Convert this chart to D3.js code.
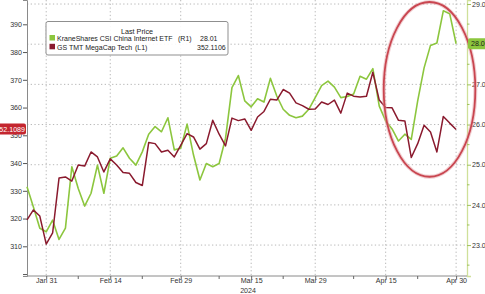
<!DOCTYPE html>
<html>
<head>
<meta charset="utf-8">
<script src="https://cdn.jsdelivr.net/npm/d3@7"></script>
<style>
  body { margin: 0; background: #fff; }
  svg { display: block; font-family: "Liberation Sans", Arial, sans-serif; }
</style>
</head>
<body>
<svg id="chart"></svg>
<script>
// daily closes, one per weekday, Jan 26 .. Apr 30 2024
const kweb = [24.45, 23.95, 23.42, 23.33, 23.62, 23.14, 23.42, 24.95, 24.41, 23.97,
    24.29, 24.99, 24.29, 25.16, 25.22, 25.42, 25.16, 24.99, 25.32, 25.76,
    25.95, 25.82, 26.17, 25.37, 25.41, 26.01, 25.24, 24.62, 25.03, 24.95,
    25.03, 25.66, 26.92, 27.22, 26.59, 26.44, 26.64, 26.56, 27.15, 26.71,
    26.38, 26.23, 26.17, 26.21, 26.38, 26.67, 26.97, 27.08, 26.93, 26.67,
    26.70, 26.76, 27.20, 27.13, 27.39, 26.46, 26.09, 25.89, 25.59, 25.76,
    25.63, 26.59, 27.41, 27.97, 28.03, 28.83, 28.76, 28.01]

const gsTmt = [319.5, 323.1, 320.9, 310.8, 314.8, 334.6, 335.0, 333.5, 339.3, 338.9,
    344.0, 342.2, 336.8, 341.5, 339.3, 336.6, 336.3, 333.0, 331.9, 347.4,
    347.0, 344.0, 344.6, 342.2, 346.4, 350.6, 349.4, 345.0, 347.0, 355.4,
    350.4, 346.2, 356.2, 355.3, 355.9, 351.8, 356.6, 358.6, 363.0, 362.7,
    366.5, 365.2, 361.7, 360.7, 359.4, 359.5, 362.0, 361.1, 362.7, 358.0,
    365.2, 364.1, 363.8, 364.1, 372.7, 362.7, 360.0, 359.9, 355.4, 355.2,
    342.0, 347.0, 353.6, 351.2, 344.0, 356.8, 354.4, 352.11]

const dateTickIdx = [3, 13, 24, 35, 45, 56, 67]
const dateTickLabels = ["Jan 31", "Feb 14", "Feb 29", "Mar 15", "Mar 29", "Apr 15", "Apr 30"]
const weekTickIdx = [8, 18, 30, 40, 51, 61]
const leftTicks = [300, 310, 320, 330, 340, 350, 360, 370, 380, 390]
const rightTicks = [23, 24, 25, 26, 27, 28, 29]
const rightMinor = [22.5, 23.5, 24.5, 25.5, 26.5, 27.5, 28.5]

const legendNames = ["KraneShares CSI China Internet ETF", "GS TMT MegaCap Tech"]
const legendAxis = ["(R1)", "(L1)"]
const legendLast = ["28.01", "352.1106"]
const leftTag = "352.1089"
const rightTag = "28.01"

// highlighted window: index range and right-axis value range
const circleIdx = [55.7, 70.0]
const circleVals = [24.7, 29.05]

const width = 485,
    height = 294

const green = "#8cc63e",
    maroon = "#8a1a2e"

const left = 27, right = 467, bottom = 276
const fs = "7.1px"

const svg = d3.select("#chart")
    .attr("width", width)
    .attr("height", height)

const x = d3.scaleLinear().domain([0, 68.7]).range([left, right])
const yL = d3.scaleLinear().domain([299.3, 398.76]).range([bottom, 0])
const yR = d3.scaleLinear().domain([22.23, 29.1]).range([bottom, 0])

// grid
svg.append("g")
    .selectAll("line")
    .data(rightTicks)
    .enter()
    .append("line")
    .attr("x1", left).attr("x2", right)
    .attr("y1", d => yR(d)).attr("y2", d => yR(d))
    .attr("stroke", "#b8b8b8")
    .attr("stroke-dasharray", "1.3,2.4")

svg.append("g")
    .selectAll("line")
    .data(dateTickIdx)
    .enter()
    .append("line")
    .attr("x1", d => x(d)).attr("x2", d => x(d))
    .attr("y1", 0).attr("y2", bottom)
    .attr("stroke", "#b8b8b8")
    .attr("stroke-dasharray", "1.3,2.4")

// left axis
const axL = svg.append("g")
    .attr("transform", "translate(" + left + ",0)")
    .call(d3.axisLeft(yL).tickValues(leftTicks).tickSize(4).tickFormat(d => d === 300 ? "" : d))
axL.select(".domain").attr("stroke", "#8a8a8a")
axL.selectAll(".tick line").attr("stroke", "#555")
axL.selectAll("text").attr("fill", "#333").style("font-size", fs)
    .attr("x", -5).attr("font-family", "Liberation Sans, Arial, sans-serif")

// right axis (the 28 label sits under the last-value tag)
const axR = svg.append("g")
    .attr("transform", "translate(" + right + ",0)")
    .call(d3.axisRight(yR).tickValues(rightTicks).tickSize(4)
        .tickFormat(d => d === 28 ? "" : d3.format(".1f")(d)))
axR.select(".domain").attr("stroke", "#cfe09a").attr("stroke-width", 1.3)
axR.selectAll(".tick line").attr("stroke", "#9fc25a")
axR.selectAll("text").attr("fill", "#333").style("font-size", fs)
    .attr("x", 5).attr("font-family", "Liberation Sans, Arial, sans-serif")

svg.append("g")
    .selectAll("line")
    .data(rightMinor)
    .enter()
    .append("line")
    .attr("x1", right).attr("x2", right + 2.5)
    .attr("y1", d => yR(d)).attr("y2", d => yR(d))
    .attr("stroke", "#9fc25a")

// bottom axis
const axB = svg.append("g")
    .attr("transform", "translate(0," + bottom + ")")
    .call(d3.axisBottom(x).tickValues(dateTickIdx).tickSize(3)
        .tickFormat((d, i) => dateTickLabels[i]))
axB.select(".domain").attr("stroke", "#8a8a8a").attr("d", "M" + left + ",0H" + right)
axB.selectAll(".tick line").attr("stroke", "#666")
axB.selectAll("text").attr("fill", "#333").style("font-size", fs)
    .attr("y", 2.4).attr("font-family", "Liberation Sans, Arial, sans-serif")

svg.append("g")
    .selectAll("line")
    .data(weekTickIdx)
    .enter()
    .append("line")
    .attr("x1", d => x(d)).attr("x2", d => x(d))
    .attr("y1", bottom).attr("y2", bottom + 3)
    .attr("stroke", "#666")

svg.append("text")
    .attr("x", x(dateTickIdx[3]) - 11)
    .attr("y", 293.3)
    .attr("fill", "#333")
    .style("font-size", fs)
    .text("2024")

// lines
const lineL = d3.line().x((d, i) => x(i)).y(d => yL(d))
const lineR = d3.line().x((d, i) => x(i)).y(d => yR(d))

svg.append("path")
    .datum(kweb)
    .attr("d", lineR)
    .attr("fill", "none")
    .attr("stroke", green)
    .attr("stroke-width", 1.6)
    .attr("stroke-linejoin", "round")

svg.append("path")
    .datum(gsTmt)
    .attr("d", lineL)
    .attr("fill", "none")
    .attr("stroke", maroon)
    .attr("stroke-width", 1.5)
    .attr("stroke-linejoin", "round")

// highlight ellipse
const cx = (x(circleIdx[0]) + x(circleIdx[1])) / 2,
    rx = (x(circleIdx[1]) - x(circleIdx[0])) / 2,
    cy = (yR(circleVals[0]) + yR(circleVals[1])) / 2,
    ry = (yR(circleVals[0]) - yR(circleVals[1])) / 2

svg.append("ellipse")
    .attr("cx", cx).attr("cy", cy).attr("rx", rx).attr("ry", ry)
    .attr("fill", "none")
    .attr("stroke", "#e3a0a6")
    .attr("stroke-width", 4)
    .attr("opacity", 0.5)

svg.append("ellipse")
    .attr("cx", cx).attr("cy", cy).attr("rx", rx).attr("ry", ry)
    .attr("fill", "none")
    .attr("stroke", "#c94650")
    .attr("stroke-width", 1.8)

// last value tags
const lastL = gsTmt[gsTmt.length - 1],
    lastR = kweb[kweb.length - 1]

svg.append("rect")
    .attr("x", -4).attr("y", yL(lastL) - 6).attr("width", left + 3).attr("height", 11)
    .attr("rx", 2)
    .attr("fill", "#c4262f")
svg.append("text")
    .attr("x", left - 2).attr("y", yL(lastL) + 2.6)
    .attr("text-anchor", "end")
    .attr("fill", "#fff")
    .style("font-size", fs)
    .text(leftTag)

svg.append("rect")
    .attr("x", right + 1).attr("y", yR(lastR) - 5.5).attr("width", 24).attr("height", 11)
    .attr("rx", 2)
    .attr("fill", green)
svg.append("text")
    .attr("x", right + 4).attr("y", yR(lastR) + 2.6)
    .attr("fill", "#1a1a1a")
    .style("font-size", fs)
    .text(rightTag)

// legend
const lg = svg.append("g")

lg.append("rect")
    .attr("x", 46).attr("y", 21.5).attr("width", 182).attr("height", 33.5)
    .attr("rx", 2)
    .attr("fill", "#fff")
    .attr("fill-opacity", 0.9)
    .attr("stroke", "#8f8f8f")

lg.append("text")
    .attr("x", 137).attr("y", 33.5)
    .attr("text-anchor", "middle")
    .attr("fill", "#222")
    .style("font-size", "7.2px")
    .text("Last Price")

const legendColours = [green, maroon]
const lastX = [200, 197]
const axisX = [178, 135]

legendNames.forEach(function (name, i) {
    const yy = 41 + i * 8.8
    lg.append("rect")
        .attr("x", 49.5).attr("y", yy - 6).attr("width", 5.5).attr("height", 5.5)
        .attr("fill", legendColours[i])
    lg.append("text")
        .attr("x", 57).attr("y", yy)
        .attr("fill", "#222")
        .style("font-size", "7px")
        .text(name)
    lg.append("text")
        .attr("x", axisX[i]).attr("y", yy)
        .attr("fill", "#222")
        .style("font-size", "7px")
        .text(legendAxis[i])
    lg.append("text")
        .attr("x", lastX[i]).attr("y", yy)
        .attr("fill", "#222")
        .style("font-size", "7px")
        .text(legendLast[i])
})
</script>
</body>
</html>
